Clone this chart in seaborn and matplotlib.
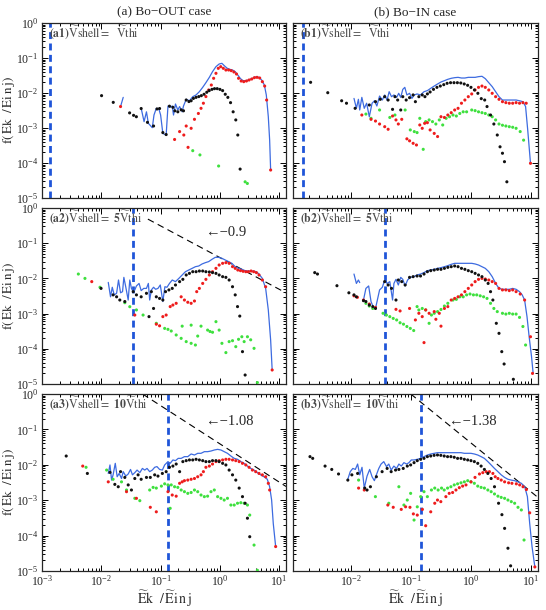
import numpy as np
import matplotlib
matplotlib.use('Agg')
import matplotlib.pyplot as plt
import matplotlib.ticker as mticker
import seaborn as sns

nan = float('nan')

# ---------------- data ----------------
# (a1) Bo-OUT, Vshell = Vthi
a1_black_x = [0.0101, 0.0159, 0.030, 0.035, 0.039, 0.047, 0.060, 0.076, 0.087, 0.096, 0.109, 0.124, 0.141, 0.161, 0.174, 0.195, 0.222, 0.243, 0.27, 0.30, 0.327, 0.357, 0.396, 0.44, 0.486, 0.54, 0.60, 0.66, 0.734, 0.81, 0.90, 1.0, 1.11, 1.23, 1.36, 1.51, 1.67, 1.85, 2.0, 2.19]
a1_black_y = [0.0084, 0.0054, 0.0027, 0.0023, 0.0021, 0.0036, 0.00145, 0.00114, 0.0035, 0.0036, 0.00074, 0.00065, 0.0042, 0.0039, 0.0031, 0.0029, 0.0033, 0.0031, 0.0063, 0.0057, 0.0060, 0.0070, 0.0075, 0.0079, 0.0084, 0.0092, 0.0105, 0.0117, 0.0127, 0.0133, 0.0133, 0.0127, 0.0117, 0.0092, 0.0075, 0.0053, 0.0029, 0.0017, 0.00063, 0.000067]
a1_red_x = [0.0211, 0.172, 0.209, 0.246, 0.27, 0.29, 0.327, 0.372, 0.433, 0.48, 0.526, 0.58, 0.646, 0.716, 0.783, 0.857, 0.938, 1.03, 1.14, 1.26, 1.40, 1.55, 1.72, 1.90, 2.06, 2.28, 2.52, 2.80, 3.10, 3.44, 3.81, 4.22, 4.68, 5.19, 5.68, 6.13, 7.16]
a1_red_y = [0.0041, 0.00047, 0.00079, 0.00063, 0.00114, 0.00028, 0.00098, 0.00177, 0.0026, 0.00365, 0.0051, 0.0079, 0.0122, 0.0169, 0.0263, 0.0365, 0.0507, 0.0565, 0.0507, 0.0454, 0.0454, 0.0435, 0.0398, 0.0349, 0.0263, 0.022, 0.0211, 0.022, 0.0235, 0.0251, 0.0274, 0.028, 0.0268, 0.0211, 0.0158, 0.0063, 0.000063]
a1_green_x = [0.348, 0.46, 0.95, 2.66, 2.9]
a1_green_y = [0.000225, 0.00017, 0.000082, 0.000029, 0.000026]
a1_blue_x = [0.0211, 0.0234, nan, 0.047, 0.0526, 0.0577, 0.0621, 0.0724, 0.0773, 0.0846, 0.0938, 0.100, 0.109, 0.124, 0.133, 0.145, 0.157, 0.165, 0.178, 0.195, 0.209, 0.231, 0.243, 0.27, 0.306, 0.348, 0.396, 0.45, 0.512, 0.58, 0.663, 0.75, 0.857, 0.97, 1.08, 1.2, 1.33, 1.47, 1.63, 1.81, 2.0, 2.22, 2.46, 2.73, 3.02, 3.35, 3.71, 4.12, 4.56, 5.06, 5.61, 6.05, 6.54, 6.89, 7.16]
a1_blue_y = [0.0041, 0.0075, nan, 0.00365, 0.00152, 0.0029, 0.00136, 0.00102, 0.00235, 0.00365, 0.00341, 0.00235, 0.0007, 0.00063, 0.00425, 0.0039, 0.00425, 0.00235, 0.00485, 0.00327, 0.0041, 0.0029, 0.00425, 0.0066, 0.006, 0.00785, 0.0088, 0.0109, 0.0145, 0.0197, 0.028, 0.0407, 0.0565, 0.0674, 0.0704, 0.059, 0.0507, 0.0474, 0.0454, 0.0407, 0.0327, 0.0257, 0.0225, 0.0225, 0.0235, 0.0251, 0.0274, 0.0293, 0.028, 0.0235, 0.0169, 0.0088, 0.0021, 0.00045, 0.000063]

# (b1) Bo-IN, Vshell = Vthi
b1_black_x = [0.00216, 0.00417, 0.0071, 0.00855, 0.0119, 0.0205, 0.026, 0.0312, 0.037, 0.0422, 0.05, 0.0548, 0.0608, 0.0684, 0.074, 0.0843, 0.096, 0.11, 0.12, 0.137, 0.156, 0.173, 0.19, 0.211, 0.24, 0.274, 0.312, 0.356, 0.405, 0.462, 0.527, 0.60, 0.684, 0.78, 0.889, 1.01, 1.155, 1.316, 1.5, 1.71, 1.87, 2.14, 2.43, 2.77, 3.08, 3.38, 3.65, 4.0]
b1_black_y = [0.0202, 0.0102, 0.006, 0.0051, 0.00365, 0.00454, 0.00565, 0.0066, 0.00785, 0.0063, 0.00341, 0.00785, 0.0063, 0.00327, 0.00785, 0.0063, 0.00736, 0.0088, 0.00565, 0.00785, 0.0088, 0.00785, 0.0094, 0.0107, 0.0127, 0.0145, 0.0158, 0.0173, 0.0189, 0.0197, 0.0197, 0.0197, 0.0193, 0.0181, 0.0166, 0.0145, 0.0122, 0.0098, 0.0069, 0.0063, 0.0041, 0.00235, 0.0013, 0.00063, 0.00029, 0.00019, 0.000109, 0.000029]
b1_red_x = [0.0154, 0.0219, 0.026, 0.0304, 0.037, 0.0422, 0.05, 0.057, 0.0624, 0.0711, 0.0866, 0.096, 0.11, 0.125, 0.142, 0.156, 0.171, 0.19, 0.211, 0.247, 0.281, 0.32, 0.365, 0.416, 0.474, 0.541, 0.616, 0.702, 0.80, 0.912, 1.04, 1.185, 1.35, 1.54, 1.75, 2.0, 2.28, 2.6, 2.96, 3.38, 3.85, 4.39, 5.0, 5.7, 6.5, 7.4, 8.4, 9.9]
b1_red_y = [0.00235, 0.00177, 0.00158, 0.0013, 0.00109, 0.00092, 0.0022, 0.0017, 0.0013, 0.00177, 0.00049, 0.00043, 0.000365, 0.000327, 0.00122, 0.00098, 0.00136, 0.00142, 0.00088, 0.0007, 0.00057, 0.0021, 0.002, 0.00235, 0.00274, 0.00327, 0.00365, 0.0051, 0.0063, 0.00785, 0.0094, 0.0122, 0.0145, 0.0158, 0.0145, 0.0122, 0.0098, 0.00785, 0.0066, 0.00565, 0.0053, 0.0051, 0.0051, 0.0053, 0.0051, 0.0053, 0.0051, 0.000098]
b1_green_x = [0.018, 0.0219, 0.0304, 0.045, 0.0548, 0.081, 0.0987, 0.115, 0.128, 0.142, 0.162, 0.178, 0.203, 0.231, 0.263, 0.30, 0.342, 0.39, 0.444, 0.507, 0.577, 0.658, 0.75, 0.855, 1.04, 1.185, 1.35, 1.54, 1.75, 2.0, 2.28, 2.6, 2.96, 3.38, 3.85, 4.39, 5.0, 5.7, 6.67, 7.6]
b1_green_y = [0.0025, 0.00189, 0.00327, 0.002, 0.00235, 0.00327, 0.00088, 0.00079, 0.00074, 0.00189, 0.000246, 0.00152, 0.0017, 0.00152, 0.0013, 0.0017, 0.00122, 0.00189, 0.0021, 0.00235, 0.0022, 0.0026, 0.0029, 0.0029, 0.00327, 0.00313, 0.0029, 0.00274, 0.0026, 0.00235, 0.0021, 0.0017, 0.0013, 0.0012, 0.00114, 0.00109, 0.00105, 0.00098, 0.00079, 0.00045]
b1_blue_x = [0.0114, 0.0125, 0.0135, 0.0142, 0.0154, 0.0169, 0.0185, 0.0205, 0.0228, 0.025, 0.0274, 0.0304, 0.0338, 0.037, 0.0405, 0.0439, 0.048, 0.0527, 0.0585, 0.0633, 0.0684, 0.074, 0.08, 0.0866, 0.096, 0.105, 0.115, 0.128, 0.146, 0.167, 0.19, 0.216, 0.247, 0.281, 0.32, 0.365, 0.416, 0.474, 0.541, 0.616, 0.702, 0.80, 0.912, 1.04, 1.185, 1.35, 1.54, 1.75, 2.0, 2.28, 2.6, 2.96, 3.38, 3.85, 4.39, 5.0, 5.7, 6.5, 7.4, 8.2, 8.9, 9.9]
b1_blue_y = [0.007, 0.00365, 0.0066, 0.00327, 0.0075, 0.00365, 0.0051, 0.0021, 0.0051, 0.006, 0.00425, 0.0082, 0.0063, 0.0088, 0.0063, 0.0109, 0.00785, 0.0088, 0.0075, 0.0098, 0.0075, 0.0127, 0.0145, 0.0088, 0.0098, 0.007, 0.0088, 0.0094, 0.0088, 0.0109, 0.0117, 0.0136, 0.0158, 0.0181, 0.0206, 0.0225, 0.0246, 0.0263, 0.0274, 0.028, 0.0268, 0.0268, 0.028, 0.028, 0.028, 0.0293, 0.030, 0.0257, 0.0197, 0.0152, 0.0109, 0.00785, 0.0063, 0.0063, 0.0063, 0.0063, 0.0063, 0.006, 0.00565, 0.0041, 0.00088, 0.000098]

# (a2) Bo-OUT, Vshell = 5 Vthi
a2_black_x = [0.0099, 0.0158, 0.0181, 0.0205, 0.0249, 0.0345, 0.0391, 0.047, 0.0577, 0.0637, 0.0698, 0.076, 0.0846, 0.096, 0.109, 0.121, 0.138, 0.157, 0.178, 0.209, 0.237, 0.27, 0.306, 0.348, 0.396, 0.45, 0.512, 0.58, 0.663, 0.75, 0.857, 0.97, 1.11, 1.26, 1.43, 1.63, 1.81, 1.98, 2.16, 2.4, 2.66]
a2_black_y = [0.0052, 0.0034, 0.003, 0.00243, 0.0022, 0.0042, 0.0034, 0.003, 0.00377, 0.00082, 0.0042, 0.0014, 0.003, 0.0027, 0.00243, 0.0042, 0.0047, 0.0052, 0.0065, 0.0081, 0.0094, 0.0125, 0.0139, 0.0155, 0.0155, 0.0162, 0.0162, 0.0155, 0.0152, 0.0146, 0.0139, 0.0125, 0.0112, 0.0107, 0.009, 0.0058, 0.0034, 0.00158, 0.00085, 0.000083, 0.000018]
a2_red_x = [0.0069, 0.0367, 0.0846, 0.096, 0.109, 0.124, 0.145, 0.161, 0.183, 0.222, 0.252, 0.287, 0.327, 0.372, 0.406, 0.45, 0.512, 0.58, 0.663, 0.75, 0.857, 0.97, 1.11, 1.26, 1.43, 1.63, 1.81, 2.0, 2.22, 2.46, 2.73, 3.02, 3.35, 3.71, 4.12, 4.56, 5.19, 5.9, 7.6]
a2_red_y = [0.0081, 0.00091, 0.0005, 0.00045, 0.00082, 0.00091, 0.00158, 0.00175, 0.00196, 0.003, 0.00243, 0.0021, 0.00196, 0.00228, 0.0042, 0.0052, 0.0072, 0.0094, 0.0125, 0.0155, 0.0193, 0.024, 0.0268, 0.028, 0.0268, 0.0216, 0.0193, 0.0173, 0.0166, 0.0159, 0.0155, 0.0155, 0.0162, 0.0155, 0.0146, 0.0125, 0.009, 0.0058, 0.000025]
a2_green_x = [0.0041, 0.0053, 0.0095, 0.0249, 0.0302, 0.0391, 0.0506, 0.0846, 0.117, 0.133, 0.151, 0.183, 0.222, 0.27, 0.327, 0.386, 0.231, 0.327, 0.422, 0.48, 0.62, 0.68, 0.75, 0.857, 0.97, 1.08, 1.26, 1.43, 1.63, 1.85, 2.06, 2.34, 2.56, 2.91, 3.3, 3.76, 4.28]
a2_green_y = [0.0133, 0.01, 0.0056, 0.00204, 0.00157, 0.00127, 0.00091, 0.00053, 0.00038, 0.000357, 0.00032, 0.000247, 0.000198, 0.00016, 0.000143, 0.000128, 0.00044, 0.00047, 0.00023, 0.00044, 0.00034, 0.00031, 0.000295, 0.00059, 0.00034, 0.000143, 0.000078, 0.00016, 0.00017, 0.000115, 0.000186, 0.00022, 0.00016, 0.00022, 0.00018, 0.000103, 0.000011]
a2_blue_x = [0.0131, 0.0143, 0.0153, 0.0165, 0.0181, 0.0195, 0.0211, 0.0228, 0.024, 0.0259, 0.0284, 0.0302, 0.0322, 0.0345, 0.0367, 0.0391, 0.0433, 0.047, 0.0519, 0.0577, 0.0621, 0.0654, 0.0698, 0.076, 0.0824, 0.0902, 0.0987, 0.109, 0.118, 0.128, 0.141, 0.157, 0.178, 0.203, 0.231, 0.262, 0.298, 0.34, 0.386, 0.439, 0.5, 0.568, 0.646, 0.734, 0.835, 0.95, 1.08, 1.23, 1.40, 1.59, 1.81, 2.06, 2.34, 2.66, 3.02, 3.44, 3.91, 4.45, 5.19, 5.9, 6.54, 7.16, 7.6]
a2_blue_y = [0.0077, 0.003, 0.0056, 0.0034, 0.00377, 0.009, 0.0039, 0.0042, 0.0107, 0.0056, 0.00243, 0.009, 0.0052, 0.0042, 0.0047, 0.0061, 0.0072, 0.0045, 0.0052, 0.0052, 0.0072, 0.00243, 0.0047, 0.0056, 0.0049, 0.0052, 0.0065, 0.0022, 0.0058, 0.0056, 0.0072, 0.009, 0.0081, 0.01, 0.0125, 0.0155, 0.0173, 0.0193, 0.0215, 0.0225, 0.0257, 0.028, 0.03, 0.0348, 0.0397, 0.0397, 0.0372, 0.0333, 0.03, 0.0268, 0.0215, 0.0193, 0.0181, 0.0166, 0.0162, 0.0162, 0.0159, 0.0139, 0.01, 0.0052, 0.00127, 0.000178, 0.000025]

# (b2) Bo-IN, Vshell = 5 Vthi
b2_black_x = [0.00253, 0.00281, 0.00593, 0.00937, 0.0114, 0.0125, 0.0164, 0.018, 0.0205, 0.0234, 0.026, 0.037, 0.0422, 0.048, 0.057, 0.0624, 0.0711, 0.081, 0.096, 0.11, 0.128, 0.146, 0.167, 0.19, 0.216, 0.247, 0.281, 0.32, 0.365, 0.416, 0.474, 0.541, 0.616, 0.702, 0.8, 0.912, 1.04, 1.185, 1.35, 1.54, 1.75, 1.95, 2.14, 2.34, 2.67, 2.96, 3.29, 3.6, 5.13]
b2_black_y = [0.0146, 0.0133, 0.0062, 0.0039, 0.0034, 0.003, 0.00233, 0.0022, 0.00175, 0.00158, 0.0014, 0.0081, 0.0065, 0.0052, 0.00243, 0.009, 0.0081, 0.0065, 0.0107, 0.0112, 0.0117, 0.0117, 0.0133, 0.0155, 0.0166, 0.0173, 0.0181, 0.0181, 0.0193, 0.0206, 0.0215, 0.0225, 0.0215, 0.0193, 0.0181, 0.0166, 0.0155, 0.0139, 0.0125, 0.0112, 0.009, 0.0072, 0.0042, 0.00243, 0.00053, 0.000275, 0.000083, 0.000037, 0.0000136]
b2_red_x = [0.0114, 0.013, 0.0164, 0.0205, 0.026, 0.057, 0.0667, 0.096, 0.12, 0.137, 0.156, 0.167, 0.178, 0.203, 0.247, 0.263, 0.3, 0.32, 0.365, 0.416, 0.474, 0.541, 0.616, 0.702, 0.8, 0.912, 1.04, 1.185, 1.35, 1.54, 1.75, 2.0, 2.28, 2.6, 2.96, 3.38, 3.85, 4.39, 5.0, 5.7, 6.67, 7.9, 9.9, 10.7]
b2_red_y = [0.0032, 0.0029, 0.00243, 0.00187, 0.0015, 0.00132, 0.00119, 0.0014, 0.00066, 0.00102, 0.00082, 0.00015, 0.00127, 0.00102, 0.00114, 0.00069, 0.00102, 0.00044, 0.0014, 0.00158, 0.00243, 0.0027, 0.003, 0.0034, 0.0042, 0.0052, 0.0065, 0.0081, 0.0094, 0.01, 0.0096, 0.009, 0.0081, 0.0072, 0.0052, 0.0047, 0.0047, 0.0045, 0.0047, 0.0042, 0.0036, 0.00243, 0.00022, 0.00002]
b2_green_x = [0.018, 0.0205, 0.0234, 0.0347, 0.0395, 0.045, 0.0513, 0.0585, 0.0667, 0.076, 0.0866, 0.0987, 0.1125, 0.128, 0.137, 0.156, 0.178, 0.203, 0.222, 0.247, 0.281, 0.32, 0.365, 0.416, 0.507, 0.577, 0.658, 0.75, 0.855, 0.974, 1.11, 1.26, 1.44, 1.64, 1.87, 2.14, 2.43, 2.77, 3.38, 3.85, 4.39, 5.0, 5.7, 6.5, 7.4, 8.2]
b2_green_y = [0.00196, 0.00164, 0.0014, 0.00102, 0.00091, 0.00082, 0.00073, 0.00066, 0.00055, 0.0005, 0.00043, 0.00038, 0.00033, 0.00158, 0.00127, 0.0014, 0.00127, 0.00053, 0.00091, 0.00102, 0.00114, 0.00131, 0.00164, 0.00196, 0.00243, 0.00254, 0.003, 0.003, 0.0034, 0.0036, 0.0034, 0.0034, 0.0032, 0.003, 0.0027, 0.00196, 0.0014, 0.00114, 0.00102, 0.00097, 0.00102, 0.00097, 0.00097, 0.00078, 0.00043, 0.000128]
b2_blue_x = [0.0114, 0.0125, 0.0135, 0.0142, nan, 0.0164, 0.018, 0.02, 0.0219, 0.024, 0.026, 0.0304, 0.0338, 0.037, 0.0405, 0.045, 0.05, 0.0527, 0.057, 0.0624, 0.0684, 0.074, 0.081, 0.089, 0.0987, 0.1125, 0.128, 0.146, 0.167, 0.19, 0.216, 0.247, 0.281, 0.32, 0.365, 0.416, 0.474, 0.541, 0.616, 0.702, 0.8, 0.912, 1.04, 1.185, 1.35, 1.54, 1.75, 2.0, 2.28, 2.6, 2.96, 3.38, 3.85, 4.39, 5.0, 5.7, 6.5, 7.2, 7.9, 8.66, 9.4, 10.3, 10.96]
b2_blue_y = [0.0133, 0.0072, 0.009, 0.0076, nan, 0.00243, 0.0052, 0.0061, 0.0022, 0.0015, 0.0014, 0.0047, 0.0056, 0.009, 0.0072, 0.0081, 0.00243, 0.0072, 0.0094, 0.0065, 0.0107, 0.0094, 0.0061, 0.009, 0.0107, 0.0112, 0.0125, 0.0133, 0.0146, 0.0166, 0.0173, 0.0181, 0.0193, 0.0202, 0.0215, 0.023, 0.0251, 0.0268, 0.0268, 0.0268, 0.0268, 0.0268, 0.0268, 0.0257, 0.024, 0.0215, 0.0193, 0.0155, 0.0112, 0.0072, 0.0052, 0.0049, 0.0049, 0.0049, 0.0052, 0.0049, 0.0042, 0.0034, 0.00243, 0.00082, 0.00022, 0.00006, 0.00002]

# (a3) Bo-OUT, Vshell = 10 Vthi
a3_black_x = [0.00256, 0.00582, 0.014, 0.0169, 0.0193, 0.0211, 0.0249, 0.0284, 0.0322, 0.0367, 0.0417, 0.047, 0.0577, 0.067, 0.0794, 0.0902, 0.107, 0.124, 0.141, 0.161, 0.183, 0.209, 0.237, 0.27, 0.306, 0.348, 0.396, 0.45, 0.512, 0.58, 0.663, 0.75, 0.857, 0.97, 1.11, 1.26, 1.43, 1.63, 1.85, 2.11, 2.4, 2.66, 2.91, 3.18]
a3_black_y = [0.0177, 0.0057, 0.0061, 0.0028, 0.0024, 0.0064, 0.0044, 0.0027, 0.00194, 0.0041, 0.0052, 0.0039, 0.0044, 0.0044, 0.0052, 0.0048, 0.0057, 0.0064, 0.0085, 0.0092, 0.0105, 0.0064, 0.0123, 0.0131, 0.0137, 0.0137, 0.0143, 0.0137, 0.0131, 0.0123, 0.0123, 0.0131, 0.0131, 0.0123, 0.011, 0.0099, 0.0071, 0.0052, 0.0037, 0.0022, 0.00126, 0.00082, 0.00031, 0.000093]
a3_red_x = [0.00486, 0.0131, 0.0266, 0.0391, 0.067, 0.0846, 0.133, 0.157, 0.183, 0.209, 0.231, 0.252, 0.287, 0.327, 0.372, 0.422, 0.48, 0.526, 0.58, 0.663, 0.75, 0.857, 0.97, 1.11, 1.26, 1.43, 1.63, 1.85, 2.11, 2.4, 2.73, 3.10, 3.53, 4.01, 4.56, 5.19, 5.9, 6.54, 6.89, 8.7]
a3_red_y = [0.0092, 0.0033, 0.00174, 0.00113, 0.00063, 0.00047, 0.00174, 0.0014, 0.0013, 0.003, 0.0033, 0.00356, 0.0037, 0.0039, 0.0041, 0.0046, 0.0052, 0.0064, 0.0085, 0.0092, 0.0105, 0.0123, 0.0131, 0.0137, 0.0143, 0.0143, 0.0137, 0.0131, 0.0123, 0.011, 0.0099, 0.0085, 0.0071, 0.0064, 0.0057, 0.0052, 0.0046, 0.003, 0.00194, 0.000049]
a3_green_x = [0.00553, 0.0123, 0.0158, 0.0219, 0.0266, 0.0367, 0.0446, 0.0654, 0.0747, 0.0846, 0.103, 0.117, 0.133, 0.145, 0.151, 0.172, 0.195, 0.222, 0.252, 0.287, 0.327, 0.372, 0.422, 0.48, 0.546, 0.62, 0.707, 0.804, 0.914, 1.04, 1.18, 1.34, 1.53, 1.74, 1.98, 2.25, 2.56, 2.91, 3.18, 3.76, 4.28]
a3_green_y = [0.0085, 0.0071, 0.0039, 0.0033, 0.00194, 0.00113, 0.00097, 0.00194, 0.0023, 0.0022, 0.0025, 0.0029, 0.0027, 0.00059, 0.0027, 0.0024, 0.0023, 0.00194, 0.00174, 0.00156, 0.00165, 0.00194, 0.00174, 0.0014, 0.00126, 0.0013, 0.00174, 0.00194, 0.00126, 0.00113, 0.00101, 0.00113, 0.00073, 0.00073, 0.00082, 0.00085, 0.00082, 0.00073, 0.00038, 0.000054, 0.0000105]
a3_blue_x = [0.0131, 0.014, 0.0149, 0.0158, 0.0172, 0.0185, 0.02, 0.0219, 0.0234, 0.0259, 0.0284, 0.0311, 0.0335, 0.0367, 0.0401, 0.0446, 0.0493, 0.054, 0.059, 0.0654, 0.0724, 0.0794, 0.0868, 0.096, 0.107, 0.117, 0.133, 0.145, 0.161, 0.178, 0.198, 0.222, 0.252, 0.287, 0.327, 0.372, 0.422, 0.48, 0.546, 0.62, 0.707, 0.804, 0.914, 1.04, 1.18, 1.34, 1.53, 1.74, 1.98, 2.25, 2.56, 2.91, 3.31, 3.76, 4.28, 4.86, 5.53, 6.29, 6.89, 7.44, 7.93, 8.7]
a3_blue_y = [0.0057, 0.0099, 0.0037, 0.0052, 0.011, 0.0046, 0.0057, 0.0041, 0.0064, 0.0048, 0.0055, 0.0074, 0.0052, 0.006, 0.0071, 0.006, 0.0079, 0.0071, 0.0079, 0.0064, 0.0071, 0.0085, 0.0089, 0.0074, 0.0071, 0.0099, 0.0123, 0.011, 0.0137, 0.0131, 0.0152, 0.0152, 0.017, 0.017, 0.0202, 0.0189, 0.0211, 0.0211, 0.0235, 0.0235, 0.0245, 0.0262, 0.0273, 0.0262, 0.0235, 0.0211, 0.0177, 0.0152, 0.0143, 0.0123, 0.011, 0.0092, 0.0079, 0.0071, 0.006, 0.0052, 0.0046, 0.0039, 0.0024, 0.00101, 0.00022, 0.000049]

# (b3) Bo-IN, Vshell = 10 Vthi
b3_black_x = [0.00211, 0.00234, 0.00376, 0.00486, 0.0063, 0.009, 0.0105, 0.0131, 0.0172, 0.0188, 0.0214, 0.0269, 0.0335, 0.0406, 0.0474, 0.0561, 0.0637, 0.0753, 0.0879, 0.1, 0.114, 0.129, 0.147, 0.167, 0.19, 0.216, 0.246, 0.28, 0.318, 0.362, 0.412, 0.468, 0.532, 0.605, 0.689, 0.783, 0.891, 1.01, 1.15, 1.31, 1.49, 1.69, 1.93, 2.19, 2.49, 2.91, 3.31, 3.67, 4.17, 4.62]
b3_black_y = [0.017, 0.0152, 0.0092, 0.0074, 0.0055, 0.0037, 0.0052, 0.0057, 0.0022, 0.00194, 0.0024, 0.0046, 0.0064, 0.0079, 0.0064, 0.0071, 0.0074, 0.0079, 0.0092, 0.0099, 0.0115, 0.0131, 0.0143, 0.0152, 0.017, 0.0177, 0.0185, 0.0189, 0.0185, 0.0177, 0.017, 0.017, 0.0163, 0.0152, 0.0152, 0.0143, 0.0137, 0.0131, 0.0123, 0.011, 0.0092, 0.0074, 0.0057, 0.0041, 0.0024, 0.00082, 0.00039, 0.00016, 0.000044, 0.000014]
b3_red_x = [0.0136, 0.0169, 0.0417, 0.0513, 0.0698, 0.0824, 0.0975, 0.111, 0.129, 0.157, 0.178, 0.216, 0.252, 0.28, 0.318, 0.386, 0.439, 0.5, 0.568, 0.646, 0.734, 0.835, 1.01, 1.18, 1.4, 1.59, 1.81, 2.05, 2.34, 2.56, 2.84, 3.22, 3.67, 4.28, 4.86, 5.75, 6.54, 7.44, 8.46, 9.6, 11.7]
b3_red_y = [0.0022, 0.00194, 0.00073, 0.00063, 0.00055, 0.00065, 0.00063, 0.00041, 0.00038, 0.00055, 0.00019, 0.00047, 0.00082, 0.00101, 0.00091, 0.00126, 0.00156, 0.00165, 0.00194, 0.00226, 0.0025, 0.0027, 0.0033, 0.0044, 0.0055, 0.006, 0.0064, 0.0064, 0.0057, 0.0046, 0.0041, 0.0037, 0.0033, 0.0031, 0.003, 0.0029, 0.0027, 0.0024, 0.002, 0.00044, 0.000013]
b3_green_x = [0.0136, 0.0259, 0.0433, 0.0637, 0.0773, 0.0879, 0.1, 0.114, 0.129, 0.147, 0.167, 0.19, 0.222, 0.252, 0.287, 0.327, 0.362, 0.412, 0.468, 0.532, 0.605, 0.689, 0.783, 0.891, 1.01, 1.15, 1.31, 1.49, 1.69, 1.93, 2.19, 2.49, 2.84, 3.22, 3.67, 4.17, 4.74, 5.39, 6.13, 6.97, 7.73]
b3_green_y = [0.0037, 0.00126, 0.00082, 0.0024, 0.00073, 0.00101, 0.00156, 0.000275, 0.00065, 0.00126, 0.00174, 0.00126, 0.00194, 0.0022, 0.00194, 0.0022, 0.00194, 0.0022, 0.0024, 0.0027, 0.0029, 0.0031, 0.0033, 0.00356, 0.0033, 0.003, 0.0025, 0.0023, 0.0022, 0.00194, 0.00174, 0.0015, 0.0013, 0.0012, 0.00113, 0.00101, 0.00091, 0.00082, 0.00063, 0.00053, 0.000075]
b3_blue_x = [0.0089, 0.00987, 0.0109, 0.012, 0.0131, 0.0142, 0.0155, 0.0169, 0.0188, 0.0208, 0.0228, 0.0249, 0.0269, 0.0295, 0.0322, 0.0357, 0.0396, 0.0433, 0.0474, 0.0526, 0.0583, 0.0637, 0.0698, 0.0773, 0.0857, 0.0938, 0.1026, 0.114, 0.129, 0.147, 0.167, 0.19, 0.216, 0.246, 0.28, 0.318, 0.362, 0.412, 0.468, 0.532, 0.605, 0.689, 0.783, 0.891, 1.01, 1.15, 1.31, 1.49, 1.69, 1.93, 2.19, 2.49, 2.84, 3.22, 3.67, 4.17, 4.74, 5.39, 6.13, 6.97, 7.93, 8.79, 9.6, 10.5, 11.7]
b3_blue_y = [0.0037, 0.0064, 0.0079, 0.0074, 0.0105, 0.0052, 0.0085, 0.0022, 0.0048, 0.0074, 0.0046, 0.00356, 0.0052, 0.0079, 0.0105, 0.0123, 0.0089, 0.0105, 0.0071, 0.0092, 0.0079, 0.0105, 0.0092, 0.0115, 0.0105, 0.0115, 0.0137, 0.0137, 0.0143, 0.0152, 0.017, 0.0189, 0.0202, 0.0211, 0.022, 0.022, 0.022, 0.022, 0.022, 0.022, 0.022, 0.022, 0.0211, 0.0211, 0.0211, 0.0202, 0.0189, 0.017, 0.0152, 0.0123, 0.0099, 0.0079, 0.0064, 0.0052, 0.0044, 0.0039, 0.0037, 0.00356, 0.0033, 0.003, 0.0024, 0.00126, 0.00022, 0.000049, 0.000013]

# shell energies (blue dashed verticals)
vshell_a = [1.38e-3, 0.034, 0.135]
vshell_b = [1.6e-3, 0.038, 0.148]

# power-law guides: amplitude, slope, x-range
a2_fit = [0.039, -0.9]
a2_fit_x = [0.061, 13.0]
a3_fit = [0.039, -1.08]
a3_fit_x = [0.0496, 13.0]
b3_fit = [0.042, -1.38]
b3_fit_x = [0.1, 13.2]

col_titles = ['(a) Bo\u2212OUT case', '(b) Bo\u2212IN case']
labels = [[r'$\mathbf{(a1)}\widetilde{\mathrm{V}}\mathrm{shell}=\ \ \widetilde{\mathrm{V}}\mathrm{thi}$',
           r'$\mathbf{(b1)}\widetilde{\mathrm{V}}\mathrm{shell}=\ \ \widetilde{\mathrm{V}}\mathrm{thi}$'],
          [r'$\mathbf{(a2)}\widetilde{\mathrm{V}}\mathrm{shell}=\ \mathbf{5}\widetilde{\mathrm{V}}\mathrm{thi}$',
           r'$\mathbf{(b2)}\widetilde{\mathrm{V}}\mathrm{shell}=\ \mathbf{5}\widetilde{\mathrm{V}}\mathrm{thi}$'],
          [r'$\mathbf{(a3)}\widetilde{\mathrm{V}}\mathrm{shell}=\ \mathbf{10}\widetilde{\mathrm{V}}\mathrm{thi}$',
           r'$\mathbf{(b3)}\widetilde{\mathrm{V}}\mathrm{shell}=\ \mathbf{10}\widetilde{\mathrm{V}}\mathrm{thi}$']]

# ---------------- style ----------------
sns.set_style('ticks')
plt.rcParams['font.family'] = ['Liberation Serif', 'DejaVu Serif']
plt.rcParams['mathtext.fontset'] = 'stix'
plt.rcParams['axes.linewidth'] = 0.9

BLACK = '#111111'
RED = '#ee1c1c'
GREEN = '#3ee03e'
BLUE = '#3d6be0'
VBLUE = '#1f55d8'


def draw_line(ax, xs, ys, **kw):
    xs = np.asarray(xs, float)
    ys = np.asarray(ys, float)
    cuts = np.where(np.isnan(xs))[0]
    start = 0
    for c in list(cuts) + [len(xs)]:
        sx, sy = xs[start:c], ys[start:c]
        if len(sx) > 1:
            sns.lineplot(x=sx, y=sy, ax=ax, sort=False, estimator=None, **kw)
        start = c + 1


def draw_panel(ax, black, red, green, blue, vline, label, fit=None, note=None):
    ax.set_xscale('log')
    ax.set_yscale('log')
    ax.axvline(vline, color=VBLUE, lw=2.0, ls=(0, (2.5, 1.6)), zorder=1)
    if fit is not None:
        (amp, slope), fx = fit
        fy = [amp * x ** slope for x in fx]
        sns.lineplot(x=fx, y=fy, ax=ax, color='k', lw=0.8, ls=(0, (6, 4)),
                     sort=False, estimator=None)
    draw_line(ax, blue[0], blue[1], color=BLUE, lw=0.9)
    for (xs, ys), c in [(green, GREEN), (red, RED), (black, BLACK)]:
        sns.scatterplot(x=xs, y=ys, ax=ax, color=c, s=5, marker='o',
                        edgecolor='none', linewidth=0, zorder=3)
    ax.text(0.028, 0.945, label, transform=ax.transAxes, fontsize=8.5,
            color='#4a4a4a', ha='left', va='center')
    if note is not None:
        ax.text(note[1], note[2], note[0], transform=ax.transAxes,
                fontsize=10.5, ha='left', va='center')


fig = plt.figure(figsize=(5.46, 6.10), dpi=100)
col_x = [42 / 546, 293 / 546]
col_w = [244 / 546, 245 / 546]
row_top = [23, 208, 394]
row_bot = [198, 384, 571]
xlims = [(1e-3, 13.0), (1.1e-3, 13.2)]

panel_data = [
    [((a1_black_x, a1_black_y), (a1_red_x, a1_red_y), (a1_green_x, a1_green_y), (a1_blue_x, a1_blue_y), None, None),
     ((b1_black_x, b1_black_y), (b1_red_x, b1_red_y), (b1_green_x, b1_green_y), (b1_blue_x, b1_blue_y), None, None)],
    [((a2_black_x, a2_black_y), (a2_red_x, a2_red_y), (a2_green_x, a2_green_y), (a2_blue_x, a2_blue_y),
      (a2_fit, a2_fit_x), ('\u2190\u22120.9', 0.668, 0.858)),
     ((b2_black_x, b2_black_y), (b2_red_x, b2_red_y), (b2_green_x, b2_green_y), (b2_blue_x, b2_blue_y), None, None)],
    [((a3_black_x, a3_black_y), (a3_red_x, a3_red_y), (a3_green_x, a3_green_y), (a3_blue_x, a3_blue_y),
      (a3_fit, a3_fit_x), ('\u2190\u22121.08', 0.668, 0.847)),
     ((b3_black_x, b3_black_y), (b3_red_x, b3_red_y), (b3_green_x, b3_green_y), (b3_blue_x, b3_blue_y),
      (b3_fit, b3_fit_x), ('\u2190\u22121.38', 0.633, 0.847))],
]

ylab = r'$\mathrm{f(\,\widetilde{E}k\ \ /\,\widetilde{E}i\,n\,j)}$'
xlab = r'$\mathrm{\widetilde{E}k\ \ /\,\widetilde{E}i\,n\,j}$'

for r in range(3):
    for c in range(2):
        b = 1 - row_bot[r] / 610
        h = (row_bot[r] - row_top[r]) / 610
        ax = fig.add_axes([col_x[c], b, col_w[c], h])
        black, red, green, blue, fit, note = panel_data[r][c]
        vline = (vshell_a if c == 0 else vshell_b)[r]
        draw_panel(ax, black, red, green, blue, vline, labels[r][c], fit, note)
        ax.set_xlim(*xlims[c])
        ax.set_ylim(1e-5, 1.0)
        for axis in (ax.xaxis, ax.yaxis):
            axis.set_major_locator(mticker.LogLocator(base=10, numticks=12))
            axis.set_minor_locator(mticker.LogLocator(base=10, subs=np.arange(2, 10) * 1.0, numticks=100))
            axis.set_minor_formatter(mticker.NullFormatter())
        ax.tick_params(which='both', direction='in', top=True, right=True,
                       labelsize=8.5, width=0.7, color='k')
        ax.tick_params(which='major', length=4.5, pad=2.5)
        ax.tick_params(which='minor', length=2.2)
        ax.tick_params(labelbottom=(r == 2), labelleft=(c == 0))
        if c == 0:
            ax.set_ylabel(ylab, fontsize=9.5)
            ax.yaxis.set_label_coords(-0.1, 0.5)
        else:
            ax.set_ylabel('')
        if r == 2:
            ax.set_xlabel(xlab, fontsize=10)
            ax.xaxis.set_label_coords(0.5, -0.1)
        else:
            ax.set_xlabel('')

for c in range(2):
    fig.text(col_x[c] + col_w[c] / 2, 1 - 12 / 610, col_titles[c],
             ha='center', va='center', fontsize=9.5)

fig.savefig('out.png', dpi=100)
